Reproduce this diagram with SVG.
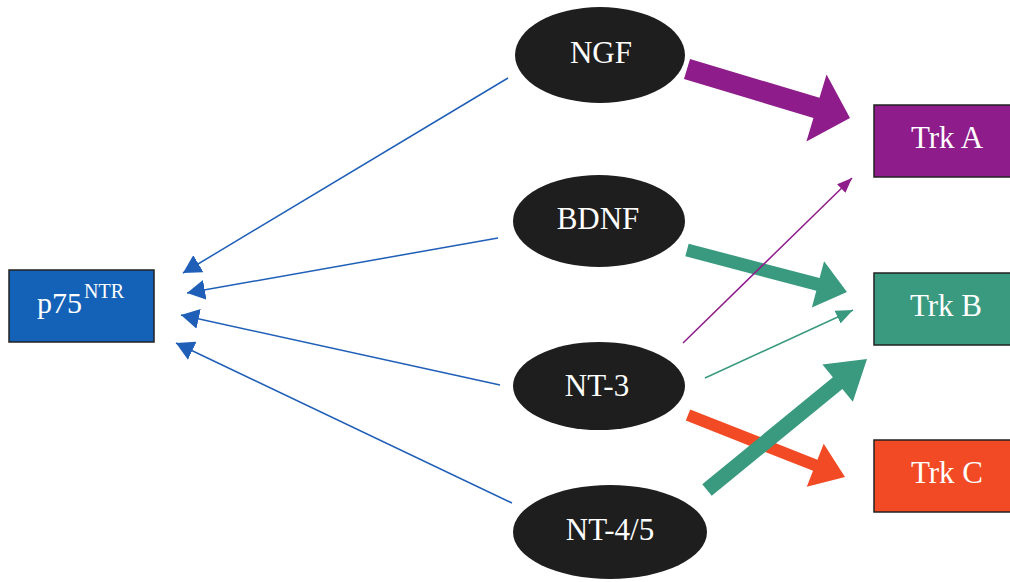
<svg xmlns="http://www.w3.org/2000/svg" width="1010" height="582" viewBox="0 0 1010 582">
<style>
.lbl{font-family:"Liberation Serif","Times New Roman",serif;fill:#fff;text-anchor:middle}
.ell{fill:#1e1e1e}
.box{stroke:#222;stroke-width:1.5}
.blue{stroke:#1f5fb8;stroke-width:1.5;fill:none;marker-end:url(#mBlue)}
</style>
<defs>
<marker id="mBlue" markerUnits="userSpaceOnUse" markerWidth="18" markerHeight="20" refX="18" refY="10" orient="auto"><path d="M0,0 L18,10 L0,20 z" fill="#1f5fb8"/></marker>
<marker id="mPurple" markerUnits="userSpaceOnUse" markerWidth="15" markerHeight="12" refX="15" refY="6" orient="auto"><path d="M0,0 L15,6 L0,12 z" fill="#8e1c8a"/></marker>
<marker id="mGreen" markerUnits="userSpaceOnUse" markerWidth="17" markerHeight="14" refX="17" refY="7" orient="auto"><path d="M0,0 L17,7 L0,14 z" fill="#3a9a7f"/></marker>
</defs>
<rect width="1010" height="582" fill="#fff"/>
<g id="connectors">
<line class="blue" x1="508" y1="78" x2="183" y2="273"/>
<line class="blue" x1="498" y1="238" x2="187" y2="293"/>
<line class="blue" x1="500" y1="385" x2="181" y2="315"/>
<line class="blue" x1="512" y1="503" x2="176" y2="343"/>
<polygon transform="translate(687,69) rotate(16.73)" fill="#8e1c8a" points="0,-10.5 135.2,-10.5 135.2,-35 170.2,0 135.2,35 135.2,10.5 0,10.5"/>
<polygon transform="translate(687,250) rotate(14.7)" fill="#3a9a7f" points="0,-6.5 135.4,-6.5 135.4,-24 165.4,0 135.4,24 135.4,6.5 0,6.5"/>
<polygon transform="translate(688,415) rotate(21.55)" fill="#f24a25" points="0,-6 136.8,-6 136.8,-23 168.8,0 136.8,23 136.8,6 0,6"/>
<polygon transform="translate(707,490) rotate(-39.3)" fill="#3a9a7f" points="0,-7.5 168.8,-7.5 168.8,-24 206.8,0 168.8,24 168.8,7.5 0,7.5"/>
<line x1="683" y1="343" x2="852" y2="178" stroke="#8e1c8a" stroke-width="1.5" marker-end="url(#mPurple)"/>
<line x1="705" y1="378" x2="853" y2="310" stroke="#3a9a7f" stroke-width="1.5" marker-end="url(#mGreen)"/>
</g>
<g id="p75">
<rect class="box" x="9" y="270" width="145" height="72" fill="#1462b8"/>
<text class="lbl" x="37" y="313" font-size="30" style="text-anchor:start">p75</text>
<text class="lbl" x="84" y="298" font-size="20" style="text-anchor:start">NTR</text>
</g>
<g id="ngf">
<ellipse class="ell" cx="600" cy="55" rx="85" ry="48"/>
<text class="lbl" x="601" y="63" font-size="31">NGF</text>
</g>
<g id="bdnf">
<ellipse class="ell" cx="599" cy="221" rx="86" ry="46"/>
<text class="lbl" x="598" y="229" font-size="31">BDNF</text>
</g>
<g id="nt3">
<ellipse class="ell" cx="599" cy="386" rx="86" ry="44"/>
<text class="lbl" x="597" y="396" font-size="31">NT-3</text>
</g>
<g id="nt45">
<ellipse class="ell" cx="610" cy="532" rx="97" ry="47"/>
<text class="lbl" x="610" y="540" font-size="31">NT-4/5</text>
</g>
<g id="trka">
<rect class="box" x="874" y="105" width="146" height="72" fill="#8e1c8a"/>
<text class="lbl" x="947" y="148" font-size="31">Trk A</text>
</g>
<g id="trkb">
<rect class="box" x="874" y="273" width="146" height="72" fill="#3a9a7f"/>
<text class="lbl" x="946" y="316" font-size="31">Trk B</text>
</g>
<g id="trkc">
<rect class="box" x="874" y="440" width="146" height="72" fill="#f24a25"/>
<text class="lbl" x="947" y="483" font-size="31">Trk C</text>
</g>
</svg>
